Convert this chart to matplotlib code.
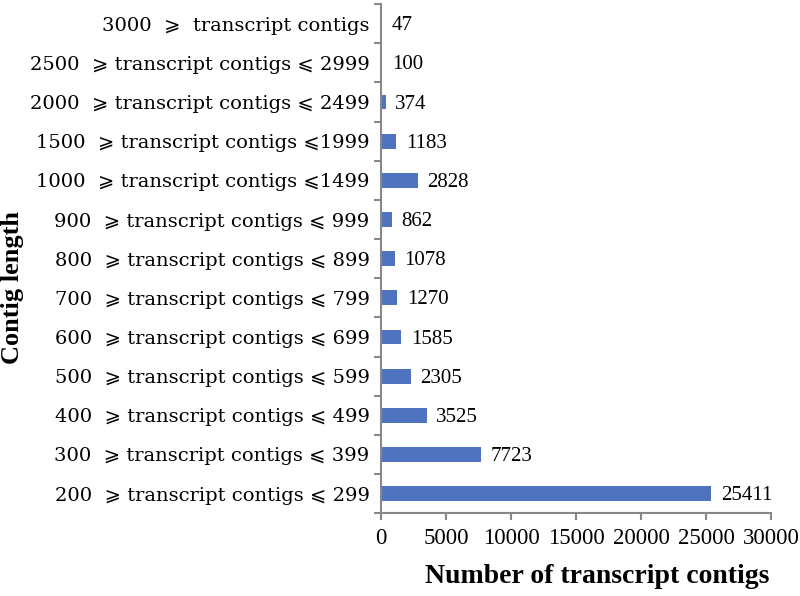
import matplotlib
matplotlib.use("Agg")
import matplotlib.pyplot as plt

# categories, bottom to top
categories = [
    "200  \u2a7e transcript contigs \u2a7d 299",
    "300  \u2a7e transcript contigs \u2a7d 399",
    "400  \u2a7e transcript contigs \u2a7d 499",
    "500  \u2a7e transcript contigs \u2a7d 599",
    "600  \u2a7e transcript contigs \u2a7d 699",
    "700  \u2a7e transcript contigs \u2a7d 799",
    "800  \u2a7e transcript contigs \u2a7d 899",
    "900  \u2a7e transcript contigs \u2a7d 999",
    "1000  \u2a7e transcript contigs \u2a7d1499",
    "1500  \u2a7e transcript contigs \u2a7d1999",
    "2000  \u2a7e transcript contigs \u2a7d 2499",
    "2500  \u2a7e transcript contigs \u2a7d 2999",
    "3000  \u2a7e  transcript contigs",
]
counts = [25411, 7723, 3525, 2305, 1585, 1270, 1078, 862, 2828, 1183, 374, 100, 47]
xticks = [0, 5000, 10000, 15000, 20000, 25000, 30000]

serif = ["Liberation Serif", "DejaVu Serif"]
label_font = ["DejaVu Serif", "DejaVu Sans"]
bar_color = "#4f73be"
axis_color = "#888888"

fig = plt.figure(figsize=(8, 5.96), dpi=100)
ax = fig.add_axes([0.476, 0.139, 0.488, 0.854])

pos = list(range(len(categories)))
ax.barh(pos, counts, height=0.38, color=bar_color)

for p, c in zip(pos, counts):
    ax.annotate(str(c), (c, p), xytext=(7, -1.5), textcoords="offset points",
                va="center", ha="left", fontsize=15, family=serif)

ax.set_xlim(0, 30000)
ax.set_ylim(-0.5, len(categories) - 0.5)
ax.set_xticks(xticks)
ax.set_xticklabels([str(t) for t in xticks], family=serif, fontsize=16.5)

ax.set_yticks(pos)
ax.set_yticklabels(categories, family=label_font, fontsize=14)
ax.tick_params(axis="y", length=0, pad=8)
ax.set_yticks([p - 0.5 for p in pos] + [len(pos) - 0.5], minor=True)
ax.tick_params(axis="y", which="minor", length=5, color=axis_color, width=1.5)
ax.tick_params(axis="x", length=5, color=axis_color, width=1.5, pad=6)

for s in ["top", "right"]:
    ax.spines[s].set_visible(False)
for s in ["left", "bottom"]:
    ax.spines[s].set_color(axis_color)
    ax.spines[s].set_linewidth(1.5)

fig.text(0.746, 0.032, "Number of transcript contigs", family=serif, fontsize=20,
         fontweight="bold", va="center", ha="center")
fig.text(0.016, 0.517, "Contig length", rotation=90, family=serif, fontsize=19,
         fontweight="bold", va="center", ha="center")

fig.savefig("out.png", dpi=100)
